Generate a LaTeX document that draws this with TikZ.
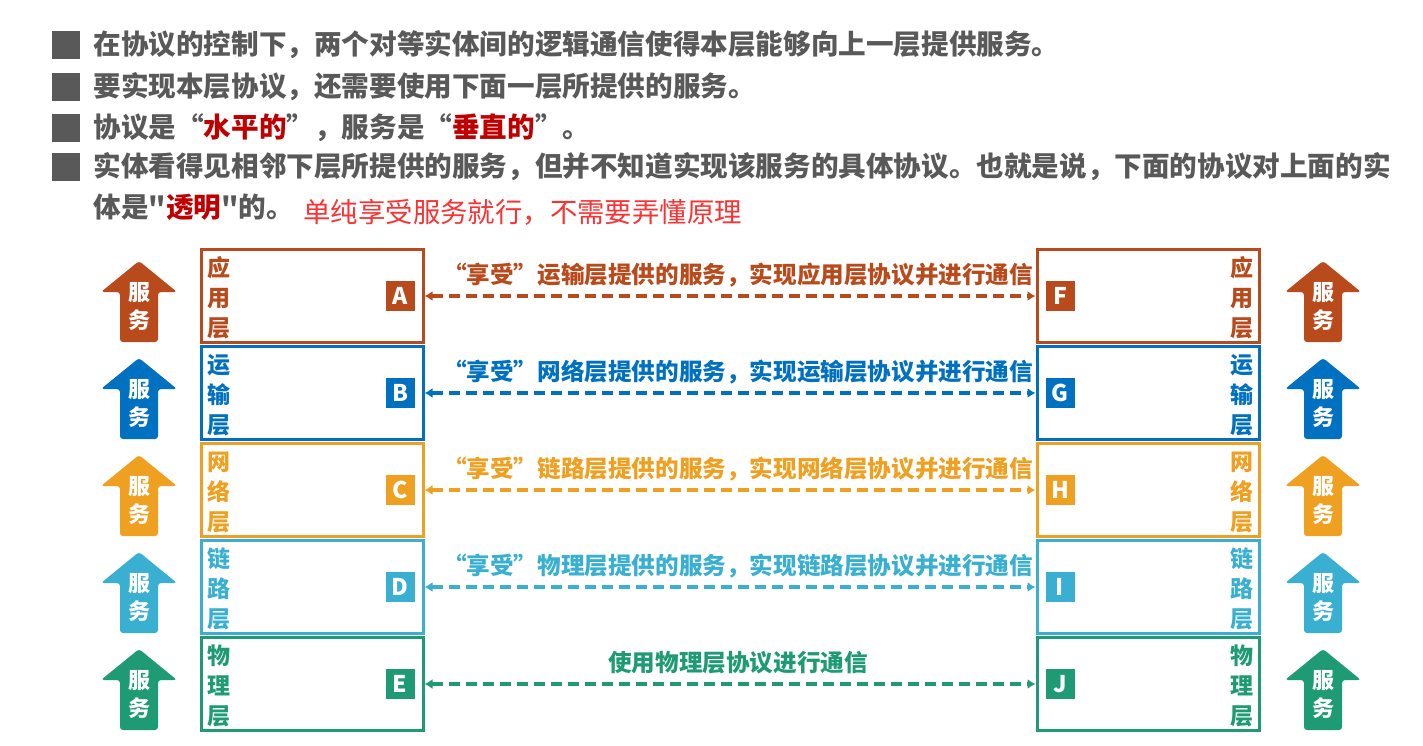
\documentclass[tikz,border=0pt]{standalone}
\usepackage{fontspec}
\setmainfont{Noto Sans CJK SC}[Ligatures=TeXOff]
\usetikzlibrary{arrows.meta}

\definecolor{appc}{RGB}{185,74,27}
\definecolor{tranc}{RGB}{0,112,192}
\definecolor{netc}{RGB}{240,160,32}
\definecolor{linkc}{RGB}{57,175,209}
\definecolor{phyc}{RGB}{30,155,116}
\definecolor{textgrey}{RGB}{89,89,89}
\definecolor{darkred}{RGB}{192,0,0}
\definecolor{notered}{RGB}{250,50,50}

\tikzset{
  bullet/.style={fill=textgrey,minimum size=14pt,inner sep=0pt},
  pointtext/.style={anchor=west,inner sep=0pt,text=textgrey,font=\bfseries\fontsize{13.8}{16}\selectfont},
  layerbox/.style={draw=#1,line width=1.5pt,minimum width=111pt,minimum height=46.5pt,inner sep=0pt},
  layername/.style={text=#1,align=center,inner sep=0pt,font=\bfseries\fontsize{11.5}{15}\selectfont},
  tagbox/.style={fill=#1,text=white,minimum width=14.5pt,minimum height=15pt,inner sep=0pt,font=\bfseries\fontsize{11.5}{12}\selectfont},
  peerline/.style={draw=#1,line width=2pt,dash pattern=on 5.5pt off 3pt,{Latex[length=4pt,width=5pt]}-{Latex[length=4pt,width=5pt]}},
  peertext/.style={text=#1,inner sep=0pt,font=\bfseries\fontsize{11.8}{14}\selectfont},
  svctext/.style={text=white,align=center,inner sep=0pt,font=\bfseries\fontsize{11}{14}\selectfont}
}

\begin{document}
\begin{tikzpicture}[x=0.5pt,y=-0.5pt]
  \useasboundingbox (0,0) rectangle (1423,745);
  % points at the top
  \node[bullet] (b1) at (66,45) {};
  \node[bullet] (b2) at (66,87) {};
  \node[bullet] (b3) at (66,128) {};
  \node[bullet] (b4) at (66,167) {};
  \node[pointtext] (p1) at (93,45) {在协议的控制下，两个对等实体间的逻辑通信使得本层能够向上一层提供服务。};
  \node[pointtext] (p2) at (93,87) {要实现本层协议，还需要使用下面一层所提供的服务。};
  \node[pointtext] (p3) at (93,128) {协议是“{\color{darkred}水平的}”，服务是“{\color{darkred}垂直的}”。};
  \node[pointtext] (p4) at (93,167) {实体看得见相邻下层所提供的服务，但并不知道实现该服务的具体协议。也就是说，下面的协议对上面的实};
  \node[pointtext] (p5) at (93,207) {体是"{\color{darkred}透明}"的。};
  \node[pointtext,text=notered,font=\fontsize{13.7}{16}\selectfont] (note) at (303,212) {单纯享受服务就行，不需要弄懂原理};
  % the five layers on both sides
  \foreach \n/\c/\p/\q/\nm/\msg in {
      0/appc/A/F/{应\\用\\层}/{“享受”运输层提供的服务，实现应用层协议并进行通信},
      1/tranc/B/G/{运\\输\\层}/{“享受”网络层提供的服务，实现运输层协议并进行通信},
      2/netc/C/H/{网\\络\\层}/{“享受”链路层提供的服务，实现网络层协议并进行通信},
      3/linkc/D/I/{链\\路\\层}/{“享受”物理层提供的服务，实现链路层协议并进行通信},
      4/phyc/E/J/{物\\理\\层}/{使用物理层协议进行通信}}{
    \pgfmathsetmacro\yt{249+97*\n}
    \node[layerbox=\c] (L\n) at (312,\yt+46.5) {};
    \node[layerbox=\c] (R\n) at (1148,\yt+46.5) {};
    \node[layername=\c] (LN\n) at (219,\yt+49) {\nm};
    \node[layername=\c] (RN\n) at (1242,\yt+49) {\nm};
    \node[tagbox=\c] (\p) at (400,\yt+47) {\p};
    \node[tagbox=\c] (\q) at (1060,\yt+47) {\q};
    \draw[peerline=\c] (\p -| L\n.east) -- (\q -| R\n.west);
    \node[peertext=\c] (M\n) at (738,\yt+26) {\msg};
    % service arrows
    \fill[\c,rounded corners=1.5pt] (139,\yt+12) -- (177,\yt+43) -- (158,\yt+43) -- (158,\yt+93)
      -- (120,\yt+93) -- (120,\yt+43) -- (101,\yt+43) -- cycle;
    \fill[\c,rounded corners=1.5pt] (1323,\yt+12) -- (1361,\yt+43) -- (1342,\yt+43) -- (1342,\yt+93)
      -- (1304,\yt+93) -- (1304,\yt+43) -- (1285,\yt+43) -- cycle;
    \node[svctext] (SL\n) at (139,\yt+57) {服\\务};
    \node[svctext] (SR\n) at (1323,\yt+57) {服\\务};
  }
\end{tikzpicture}
\end{document}
